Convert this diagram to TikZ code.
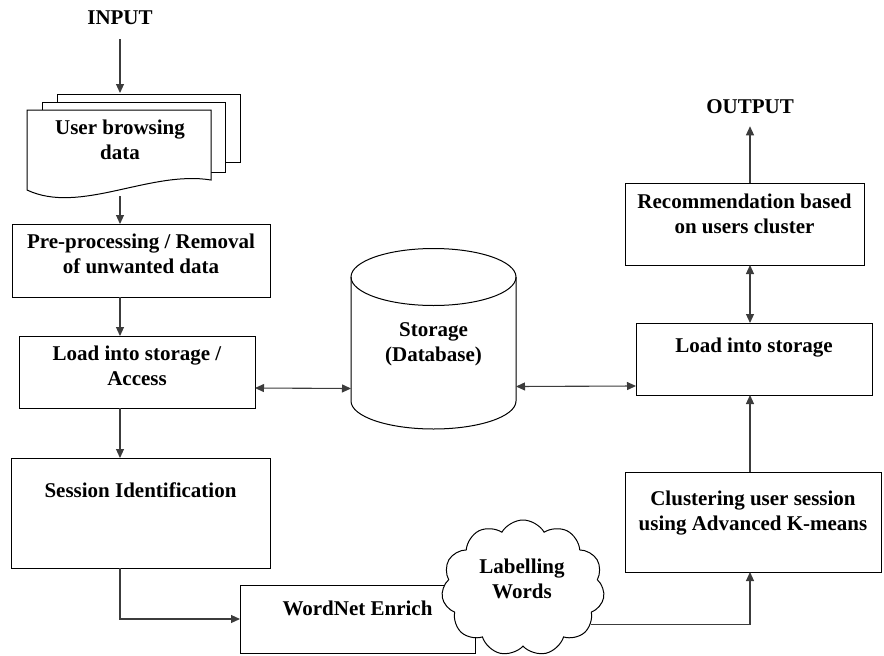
\documentclass[tikz,border=0pt]{standalone}
\usepackage{fontspec}
\setmainfont{Liberation Serif}
\usepackage{tikz}
\usetikzlibrary{arrows.meta,positioning,shapes.geometric,shapes.symbols,calc}
\definecolor{lnclr}{RGB}{60,60,60}

\begin{document}
\begin{tikzpicture}[x=1pt,y=-1pt,
  box/.style={draw=black,line width=1pt,fill=white,inner sep=0pt,outer sep=0pt},
  lbl/.style={align=center,font=\fontsize{21}{25}\selectfont\bfseries,inner sep=2pt},
  doc/.style={draw=black,line width=1pt,fill=white},
  arr/.style={-{Triangle[length=9pt,width=8pt]},line width=1.1pt,lnclr},
  dbl/.style={{Triangle[length=9pt,width=8pt]}-{Triangle[length=9pt,width=8pt]},line width=1.1pt,lnclr}
]
\useasboundingbox (0,0) rectangle (884,656);
\coordinate (axis) at (120,0);
\coordinate (axisr) at (750,0);

% input documents
\node[lbl] (input) at (120,18) {INPUT};
\draw[doc] (57,94) rectangle (240,162);
\draw[doc] (42,102) rectangle (225,172);
\draw[doc] (27,110) -- (211,110) -- (211,180)
  .. controls (150,170) and (80,215) .. (27,190) -- cycle;
\node[lbl] (browse) at (120,140) {User browsing\\data};
\coordinate (doctop) at (120,93);
\coordinate (docbot) at (120,196);

% left column
\node[box,minimum width=258,minimum height=73] (prep) at (141,260.5) {};
\node[lbl] (preptxt) at ([yshift=7]prep.center) {Pre-processing / Removal\\of unwanted data};
\node[box,minimum width=236,minimum height=72] (access) at (137,372) {};
\node[lbl] (accesstxt) at ([yshift=6]access.center) {Load into storage /\\Access};
\node[box,minimum width=259,minimum height=110] (sess) at (140.5,513) {};
\node[lbl] (sesstxt) at ([yshift=23]sess.center) {Session Identification};

% storage cylinder
\node[minimum width=165,minimum height=181,inner sep=0pt,outer sep=0pt] (db) at (433.5,338.5) {};
\draw[line width=1pt,fill=white] (db.west |- 0,277) -- (db.west |- 0,401)
  arc (180:0:82.5 and 28) -- (db.east |- 0,277);
\draw[line width=1pt] (433.5,277) ellipse (82.5 and 28.5);
\node[lbl] (dbtxt) at (433.5,344) {Storage\\(Database)};

% bottom
\node[box,minimum width=235,minimum height=68] (wordnet) at (357.5,619) {};
\node[lbl] (wordnettxt) at ([yshift=11]wordnet.center) {WordNet Enrich};
\node[cloud,cloud puffs=11,cloud puff arc=120,aspect=1.2,draw=black,line width=1pt,
      fill=white,minimum width=163,minimum height=136,inner sep=0pt] (cloud) at (523,588) {};
\node[lbl] (cloudtxt) at (522,579) {Labelling\\Words};

% right column
\node[box,minimum width=256,minimum height=100] (clust) at (753,522) {};
\node[lbl] (clusttxt) at ([yshift=9]clust.center) {Clustering user session\\using Advanced K-means};
\node[box,minimum width=236,minimum height=72] (load) at (754,359) {};
\node[lbl] (loadtxt) at ([yshift=11]load.center) {Load into storage};
\node[box,minimum width=239,minimum height=82] (rec) at (744.5,224) {};
\node[lbl] (rectxt) at ([yshift=10]rec.center) {Recommendation based\\on users cluster};
\node[lbl] (output) at (750,107) {OUTPUT};

% connectors
\draw[arr] ([yshift=-12]input.south) -- (doctop);
\draw[arr] (docbot) -- (prep.north -| axis);
\draw[arr] (prep.south -| axis) -- (access.north -| axis);
\draw[arr] (access.south -| axis) -- (sess.north -| axis);
\draw[arr] (sess.south -| axis) |- (wordnet.west);
\draw[dbl] ($(access.east)+(0,16)$) -- ($(db.west)+(0,50)$);
\draw[dbl] ($(db.east)+(0,48)$) -- ($(load.west)+(0,27)$);
\draw[arr] (cloud.-28) -| (clust.south -| axisr);
\draw[arr] (clust.north -| axisr) -- (load.south -| axisr);
\draw[dbl] (load.north -| axisr) -- (rec.south -| axisr);
\draw[arr] (rec.north -| axisr) -- ([yshift=-10]output.south);
\end{tikzpicture}
\end{document}
